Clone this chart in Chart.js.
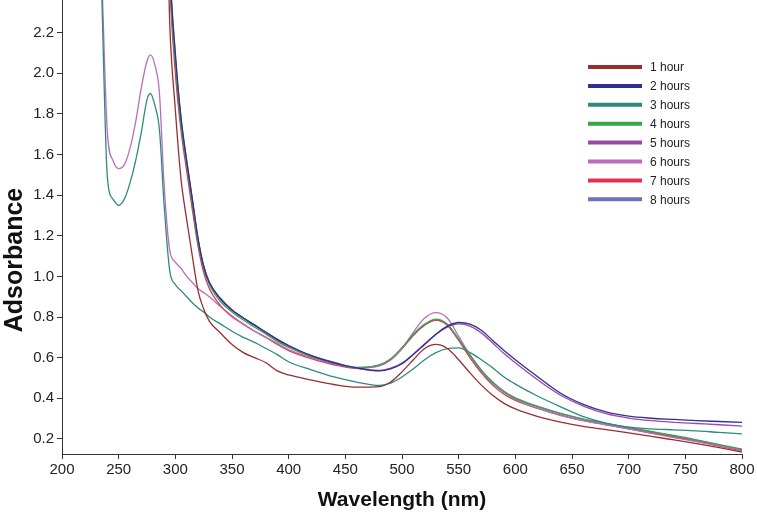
<!DOCTYPE html>
<html>
<head>
<meta charset="utf-8">
<script src="https://cdn.jsdelivr.net/npm/chart.js@4"></script>
<style>
    html, body { margin: 0; padding: 0; background: #fff; }
    #wrap { width: 757px; height: 513px; }
</style>
</head>
<body>
<div id="wrap"><canvas id="absChart" width="757" height="513"></canvas></div>
<script>
const wavelengths = [235, 240, 245, 250, 255, 260, 265, 270, 275, 278, 282, 286, 290, 295, 300, 305, 310, 315, 320, 325,
    330, 340, 350, 360, 370, 380, 390, 400, 420, 440, 460, 480, 490, 500, 510, 520, 530, 540, 550, 560,
    570, 580, 590, 600, 620, 640, 660, 680, 700, 720, 740, 760, 780, 800];

const seriesLabels = ["1 hour", "2 hours", "3 hours", "4 hours", "5 hours", "6 hours", "7 hours", "8 hours"];
const seriesColors = ["#9b2d30", "#2e3192", "#2f8a7e", "#35a847", "#9a4aa6", "#bd6bbd", "#e3304f", "#6a72b8"];

const lead = [null, null, null, null, null, null, null, null, null, null, null, null];

const hour1 = lead.concat([3.3, 2.25, 1.82, 1.48, 1.28, 1.1, 0.93, 0.84,
    0.78, 0.72, 0.665, 0.625, 0.6, 0.575, 0.535, 0.515, 0.49, 0.468, 0.455, 0.458, 0.48, 0.53, 0.59, 0.645, 0.665, 0.645, 0.59, 0.525,
    0.465, 0.415, 0.375, 0.348, 0.31, 0.283, 0.262, 0.246, 0.23, 0.213, 0.195, 0.177, 0.157, 0.135]);

const hour2 = lead.concat([3.6, 2.55, 2.1, 1.78, 1.57, 1.38, 1.19, 1.05,
    0.97, 0.89, 0.835, 0.795, 0.76, 0.725, 0.69, 0.66, 0.61, 0.575, 0.55, 0.535, 0.545, 0.57, 0.615, 0.665, 0.715, 0.755, 0.773, 0.765,
    0.735, 0.685, 0.635, 0.59, 0.505, 0.425, 0.37, 0.333, 0.312, 0.302, 0.296, 0.29, 0.286, 0.282]);

const hour3 = [2.4, 1.49, 1.38, 1.35, 1.38, 1.46, 1.57, 1.71, 1.87, 1.9, 1.84, 1.72, 1.36, 1.03, 0.96, 0.93, 0.9, 0.87, 0.845, 0.825,
    0.8, 0.765, 0.73, 0.7, 0.675, 0.645, 0.615, 0.58, 0.54, 0.505, 0.48, 0.463, 0.475, 0.505, 0.545, 0.59, 0.625, 0.645, 0.648, 0.625,
    0.59, 0.55, 0.505, 0.47, 0.41, 0.358, 0.31, 0.278, 0.258, 0.25, 0.245, 0.24, 0.232, 0.225];

const hour4 = lead.concat([3.5, 2.5, 2.05, 1.75, 1.55, 1.36, 1.17, 1.04,
    0.96, 0.875, 0.825, 0.785, 0.75, 0.715, 0.68, 0.65, 0.605, 0.575, 0.55, 0.565, 0.595, 0.65, 0.715, 0.765, 0.79, 0.765, 0.69, 0.61,
    0.535, 0.475, 0.43, 0.4, 0.358, 0.325, 0.298, 0.277, 0.257, 0.237, 0.217, 0.196, 0.172, 0.15]);

const hour5 = lead.concat([3.5, 2.5, 2.06, 1.76, 1.55, 1.37, 1.18, 1.05,
    0.97, 0.89, 0.835, 0.795, 0.76, 0.725, 0.69, 0.658, 0.607, 0.572, 0.548, 0.537, 0.548, 0.573, 0.618, 0.668, 0.715, 0.75, 0.766, 0.755,
    0.722, 0.672, 0.62, 0.575, 0.49, 0.415, 0.362, 0.325, 0.303, 0.29, 0.282, 0.276, 0.27, 0.263]);

const hour6 = [2.5, 1.71, 1.57, 1.53, 1.55, 1.63, 1.76, 1.93, 2.06, 2.09, 2.04, 1.9, 1.46, 1.13, 1.07, 1.04, 1.0, 0.97, 0.94, 0.92,
    0.9, 0.85, 0.8, 0.765, 0.73, 0.7, 0.67, 0.64, 0.6, 0.57, 0.55, 0.56, 0.59, 0.645, 0.725, 0.795, 0.822, 0.795, 0.705, 0.615,
    0.535, 0.475, 0.43, 0.395, 0.35, 0.315, 0.29, 0.27, 0.25, 0.228, 0.207, 0.187, 0.166, 0.145];

const hour7 = lead.concat([3.4, 2.45, 2.0, 1.72, 1.52, 1.33, 1.15, 1.02,
    0.94, 0.855, 0.805, 0.765, 0.73, 0.7, 0.665, 0.635, 0.595, 0.565, 0.548, 0.562, 0.59, 0.645, 0.71, 0.762, 0.785, 0.76, 0.685, 0.6,
    0.525, 0.465, 0.42, 0.39, 0.35, 0.317, 0.29, 0.27, 0.25, 0.23, 0.21, 0.188, 0.165, 0.142]);

const hour8 = lead.concat([3.6, 2.55, 2.08, 1.78, 1.57, 1.38, 1.18, 1.05,
    0.97, 0.885, 0.835, 0.795, 0.76, 0.72, 0.685, 0.655, 0.61, 0.578, 0.552, 0.563, 0.59, 0.645, 0.71, 0.76, 0.785, 0.762, 0.69, 0.612,
    0.54, 0.48, 0.435, 0.402, 0.36, 0.326, 0.298, 0.276, 0.255, 0.235, 0.214, 0.193, 0.17, 0.148]);

const allSeries = [hour1, hour2, hour3, hour4, hour5, hour6, hour7, hour8];

const xTicks = [200, 250, 300, 350, 400, 450, 500, 550, 600, 650, 700, 750, 800];
const yTicks = [0.2, 0.4, 0.6, 0.8, 1.0, 1.2, 1.4, 1.6, 1.8, 2.0, 2.2];

const FONT = "'Liberation Sans', Arial, sans-serif";

// legend inside the plot, drawn by hand
const insideLegend = {
    id: "insideLegend",
    afterDraw(chart) {
        const ctx = chart.ctx;
        ctx.save();
        ctx.font = "12px " + FONT;
        ctx.textBaseline = "middle";
        chart.data.datasets.forEach((ds, i) => {
            const y = 67 + i * 18.9;
            ctx.strokeStyle = ds.borderColor;
            ctx.lineWidth = 4;
            ctx.beginPath();
            ctx.moveTo(588, y);
            ctx.lineTo(642, y);
            ctx.stroke();
            ctx.fillStyle = "#222";
            ctx.fillText(ds.label, 650, y + 1);
        });
        ctx.restore();
    }
};

// y title sits a bit lower than the axis middle in the original
const yTitle = {
    id: "yTitle",
    afterDraw(chart) {
        const ctx = chart.ctx;
        ctx.save();
        ctx.font = "bold 25px " + FONT;
        ctx.fillStyle = "#111";
        ctx.textAlign = "center";
        ctx.textBaseline = "middle";
        ctx.translate(15, 260);
        ctx.rotate(-Math.PI / 2);
        ctx.fillText("Adsorbance", 0, 0);
        ctx.restore();
    }
};

const datasets = allSeries.map((values, i) => ({
    label: seriesLabels[i],
    data: values.map((v, j) => ({ x: wavelengths[j], y: v })),
    borderColor: seriesColors[i],
    backgroundColor: seriesColors[i],
    borderWidth: 1.3,
    pointRadius: 0,
    cubicInterpolationMode: "monotone",
    spanGaps: false,
    fill: false
}));

new Chart(document.getElementById("absChart"), {
    type: "line",
    data: { datasets: datasets },
    options: {
        responsive: false,
        animation: false,
        devicePixelRatio: 1,
        layout: { padding: { top: 0, right: 15, bottom: 0, left: 0 } },
        plugins: {
            legend: { display: false },
            tooltip: { enabled: false }
        },
        scales: {
            x: {
                type: "linear",
                min: 200,
                max: 800,
                afterBuildTicks: scale => { scale.ticks = xTicks.map(v => ({ value: v })); },
                afterFit: scale => { scale.height = 59; scale.paddingLeft = 0; scale.paddingRight = 0; },
                grid: { drawOnChartArea: false, drawTicks: true, tickLength: 5, color: "#333" },
                border: { display: true, color: "#333", width: 1 },
                ticks: { color: "#222", font: { family: FONT, size: 15 }, padding: 2, maxRotation: 0 },
                title: {
                    display: true,
                    text: "Wavelength (nm)",
                    color: "#111",
                    font: { family: FONT, size: 21, weight: "bold" },
                    padding: { top: 8, bottom: 0 }
                }
            },
            y: {
                type: "linear",
                min: 0.126,
                max: 2.36,
                afterBuildTicks: scale => { scale.ticks = yTicks.map(v => ({ value: v })); },
                afterFit: scale => { scale.width = 62; scale.paddingTop = 0; scale.paddingBottom = 0; },
                grid: { drawOnChartArea: false, drawTicks: true, tickLength: 5, color: "#333" },
                border: { display: true, color: "#333", width: 1 },
                ticks: {
                    color: "#222",
                    font: { family: FONT, size: 15 },
                    padding: 3,
                    callback: v => Number(v).toFixed(1)
                }
            }
        }
    },
    plugins: [insideLegend, yTitle]
});
</script>
</body>
</html>
